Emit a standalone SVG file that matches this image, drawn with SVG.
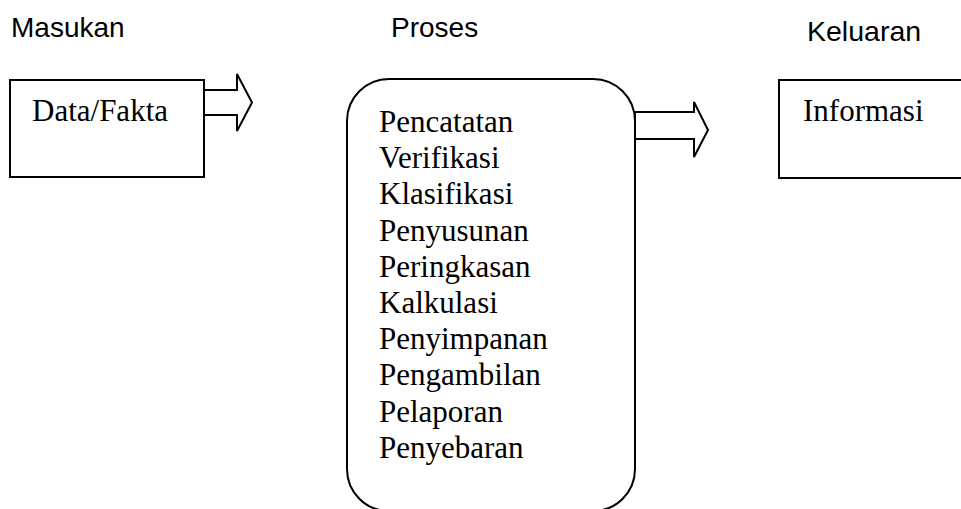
<svg xmlns="http://www.w3.org/2000/svg" width="961" height="509" viewBox="0 0 961 509">
<style>
.hdr{font-family:"Liberation Sans",Arial,sans-serif;font-size:28px;fill:#000}
.ser{font-family:"Liberation Serif","Times New Roman",serif;font-size:31px;fill:#000}
.box{fill:#fff;stroke:#000;stroke-width:2}
.arr{fill:#fff;stroke:#000;stroke-width:2;stroke-linejoin:miter}
</style>
<rect width="961" height="509" fill="#fff"/>
<g id="headers">
<text class="hdr" x="11" y="37">Masukan</text>
<text class="hdr" x="391" y="37">Proses</text>
<text class="hdr" x="807" y="41" style="font-size:28.5px">Keluaran</text>
</g>
<g id="connectors">
<polygon class="arr" points="204,90 237,90 237,74 252,102.5 237,131 237,115 204,115"/>
<polygon class="arr" points="635,112 694,112 694,102 708,130 694,157 694,139 635,139"/>
</g>
<g id="masukan">
<rect class="box" x="10" y="80" width="194" height="97"/>
<text class="ser" x="32" y="121">Data/Fakta</text>
</g>
<g id="proses">
<rect class="box" x="347" y="79" width="288" height="432" rx="42" ry="42"/>
<text class="ser" x="379" y="132">Pencatatan</text>
<text class="ser" x="379" y="168.2">Verifikasi</text>
<text class="ser" x="379" y="204.4">Klasifikasi</text>
<text class="ser" x="379" y="240.6">Penyusunan</text>
<text class="ser" x="379" y="276.8">Peringkasan</text>
<text class="ser" x="379" y="313">Kalkulasi</text>
<text class="ser" x="379" y="349.2">Penyimpanan</text>
<text class="ser" x="379" y="385.4">Pengambilan</text>
<text class="ser" x="379" y="421.6">Pelaporan</text>
<text class="ser" x="379" y="457.8">Penyebaran</text>
</g>
<g id="keluaran">
<rect class="box" x="779" y="80" width="200" height="98"/>
<text class="ser" x="803" y="121">Informasi</text>
</g>
</svg>
